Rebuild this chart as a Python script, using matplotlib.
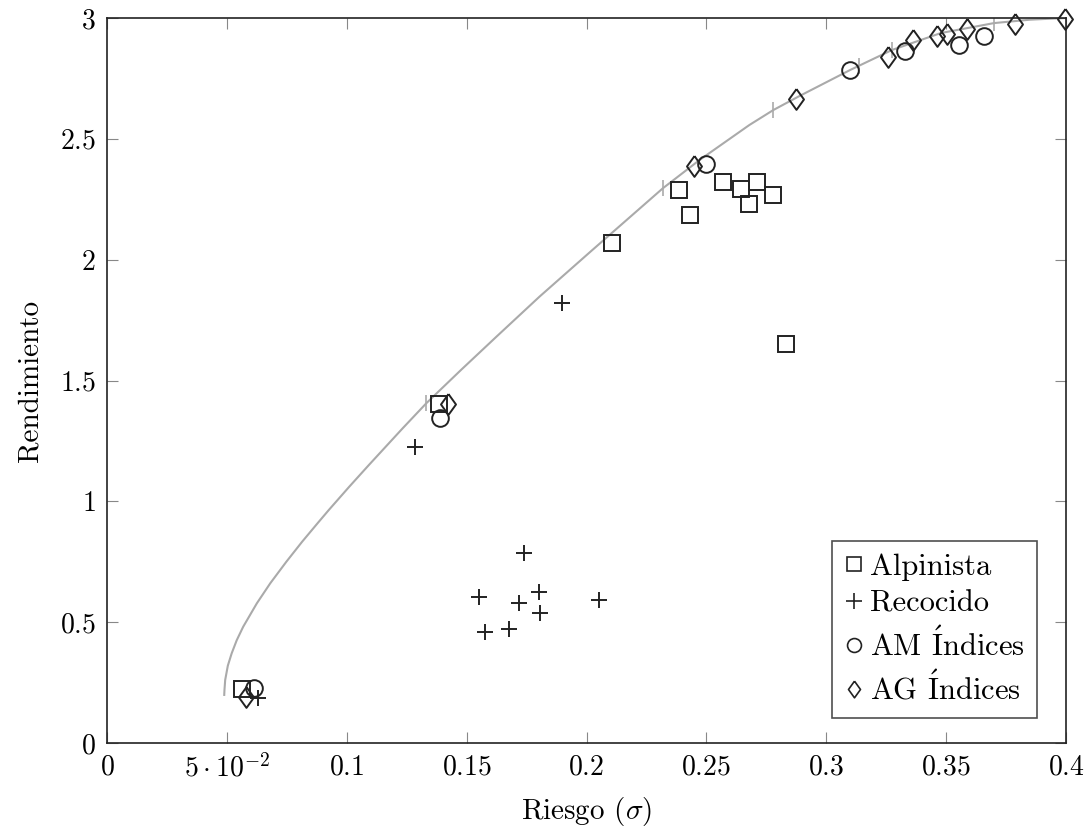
import matplotlib
matplotlib.use('Agg')
import matplotlib.pyplot as plt
from matplotlib.lines import Line2D

plt.rcParams['font.family'] = 'serif'
plt.rcParams['font.serif'] = ['cmr10']
plt.rcParams['mathtext.fontset'] = 'cm'
plt.rcParams['axes.unicode_minus'] = False
plt.rcParams['axes.formatter.use_mathtext'] = True

# frontera eficiente
front_x = [0.0489, 0.0490, 0.0493, 0.0504, 0.0520, 0.0541, 0.0568, 0.0625, 0.0681,
           0.0748, 0.0814, 0.0878, 0.0925, 0.1010, 0.1092, 0.1233, 0.1332, 0.1478,
           0.1624, 0.1804, 0.2013, 0.2082, 0.2318, 0.2471, 0.2679, 0.2779, 0.2888,
           0.3100, 0.3275, 0.3479, 0.3700, 0.3850, 0.3996]
front_y = [0.199, 0.220, 0.261, 0.320, 0.371, 0.425, 0.481, 0.578, 0.661,
           0.750, 0.833, 0.909, 0.964, 1.060, 1.150, 1.302, 1.406, 1.545,
           1.681, 1.847, 2.030, 2.090, 2.295, 2.412, 2.557, 2.619, 2.677,
           2.785, 2.868, 2.938, 2.979, 2.993, 3.000]
# marcas '|' sobre la frontera
mark_x = [0.1332, 0.2318, 0.2779, 0.3138, 0.3275, 0.3700]
mark_y = [1.406, 2.295, 2.619, 2.800, 2.868, 2.979]

alp_x = [0.0565, 0.1384, 0.2106, 0.2386, 0.2432, 0.2570, 0.2643, 0.2710, 0.2678, 0.2778, 0.2833]
alp_y = [0.223, 1.402, 2.069, 2.287, 2.183, 2.320, 2.293, 2.320, 2.231, 2.266, 1.653]

rec_x = [0.0630, 0.1283, 0.1897, 0.1740, 0.1551, 0.1800, 0.1718, 0.1807, 0.2054, 0.1575, 0.1676]
rec_y = [0.185, 1.226, 1.821, 0.785, 0.604, 0.624, 0.578, 0.537, 0.590, 0.461, 0.471]

am_x = [0.0612, 0.1388, 0.2498, 0.3099, 0.3330, 0.3555, 0.3660]
am_y = [0.227, 1.345, 2.394, 2.785, 2.864, 2.888, 2.925]

ag_x = [0.0580, 0.1424, 0.2450, 0.2872, 0.3256, 0.3363, 0.3460, 0.3505, 0.3589, 0.3788, 0.3997]
ag_y = [0.190, 1.404, 2.388, 2.664, 2.837, 2.911, 2.926, 2.933, 2.955, 2.976, 2.995]

xticks = [0, 0.05, 0.1, 0.15, 0.2, 0.25, 0.3, 0.35, 0.4]
xtick_labels = [r'$0$', r'$5\cdot10^{-2}$', r'$0.1$', r'$0.15$', r'$0.2$',
                r'$0.25$', r'$0.3$', r'$0.35$', r'$0.4$']
yticks = [0, 0.5, 1, 1.5, 2, 2.5, 3]
ytick_labels = [r'$0$', r'$0.5$', r'$1$', r'$1.5$', r'$2$', r'$2.5$', r'$3$']

# rombo algo mas ancho que 'd'
DIAMOND = [(0, 1), (0.72, 0), (0, -1), (-0.72, 0), (0, 1)]

fig = plt.figure(figsize=(10.88, 8.34), dpi=100)
ax = fig.add_axes([107/1088, 91/834, 959/1088, 725/834])

ax.plot(front_x, front_y, color='#aaaaaa', lw=1.5, zorder=1)
ax.plot(mark_x, mark_y, ls='none', marker='|', ms=12, mew=1.2, color='#aaaaaa', zorder=1)

mk = dict(ls='none', mfc='none', mec='#222222', clip_on=False, zorder=3)
ax.plot(alp_x, alp_y, marker='s', ms=11.5, mew=1.4, **mk)
ax.plot(rec_x, rec_y, marker='+', ms=12, mew=1.4, **mk)
ax.plot(am_x, am_y, marker='o', ms=12, mew=1.4, **mk)
ax.plot(ag_x, ag_y, marker=DIAMOND, ms=15, mew=1.4, **mk)

ax.set_xlim(0, 0.4)
ax.set_ylim(0, 3)
ax.set_xticks(xticks)
ax.set_xticklabels(xtick_labels)
ax.set_yticks(yticks)
ax.set_yticklabels(ytick_labels)
ax.tick_params(direction='in', top=True, right=True, length=8, width=0.8,
               color='#888888', labelsize=20, pad=8)
for s in ax.spines.values():
    s.set_linewidth(1.2)
    s.set_color('#222222')

ax.set_xlabel(r'Riesgo ($\sigma$)', fontsize=21, labelpad=9)
ax.set_ylabel('Rendimiento', fontsize=21, labelpad=12)

handles = [
    Line2D([], [], ls='none', marker='s', ms=10, mfc='none', mec='#222222', mew=1.2),
    Line2D([], [], ls='none', marker='+', ms=11, mfc='none', mec='#222222', mew=1.2),
    Line2D([], [], ls='none', marker='o', ms=10, mfc='none', mec='#222222', mew=1.2),
    Line2D([], [], ls='none', marker=DIAMOND, ms=12, mfc='none', mec='#222222', mew=1.2),
]
labels = ['Alpinista', 'Recocido', r'AM $\acute{\mathrm{I}}$ndices', r'AG $\acute{\mathrm{I}}$ndices']
leg = ax.legend(handles, labels, loc='lower right', bbox_to_anchor=(0.97, 0.035),
                fontsize=22, frameon=True, fancybox=False, edgecolor='#222222',
                handlelength=0.6, handletextpad=0.25, borderpad=0.4, labelspacing=0.3,
                borderaxespad=0)
leg.get_frame().set_linewidth(1.2)

fig.savefig('out.png', dpi=100)
